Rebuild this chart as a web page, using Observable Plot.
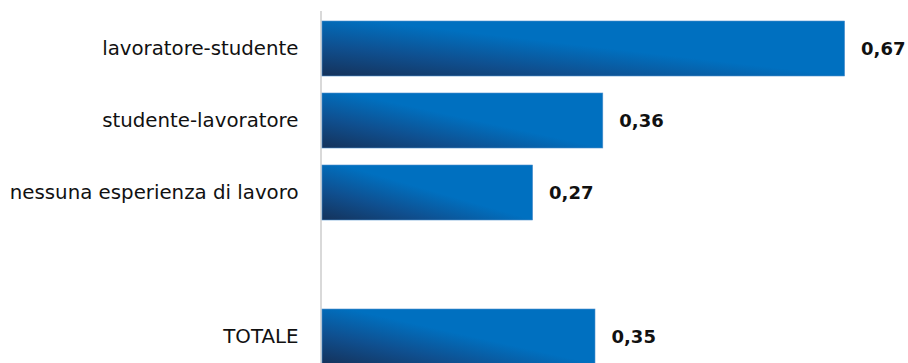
<!DOCTYPE html>
<html>
<head>
<meta charset="utf-8">
<script src="https://cdn.jsdelivr.net/npm/d3@7"></script>
<script src="https://cdn.jsdelivr.net/npm/@observablehq/plot@0.6"></script>
<style>
  html, body { margin: 0; padding: 0; background: #fff; }
  #chart svg { display: block; }
</style>
</head>
<body>
<div id="chart"></div>
<script>
// Categories in display order (the empty string is the blank gap row)
const categories = ["lavoratore-studente", "studente-lavoratore", "nessuna esperienza di lavoro", "", "TOTALE"];
// Values for the bars
const barCategories = ["lavoratore-studente", "studente-lavoratore", "nessuna esperienza di lavoro", "TOTALE"];
const values = [0.67, 0.36, 0.27, 0.35];

const data = barCategories.map((c, i) => ({ category: c, value: values[i] }));
const fmt = v => v.toFixed(2).replace(".", ",");

const defs = () => {
  const d = d3.create("svg:defs");
  const g = d.append("linearGradient")
    .attr("id", "barGrad")
    .attr("gradientUnits", "objectBoundingBox")
    .attr("x1", 0).attr("y1", 1)
    .attr("x2", 0.55).attr("y2", 0.5);
  g.append("stop").attr("offset", 0).attr("stop-color", "#15325a");
  g.append("stop").attr("offset", 0.5).attr("stop-color", "#0f4f8f");
  g.append("stop").attr("offset", 1).attr("stop-color", "#0070c0");
  return d.node();
};

const chart = Plot.plot({
  width: 908,
  height: 363,
  marginLeft: 322,
  marginRight: 0,
  marginTop: 11,
  marginBottom: 0,
  style: { fontFamily: "DejaVu Sans", background: "#fff", overflow: "visible" },
  x: { domain: [0, 586 / 780], axis: null },
  y: { type: "band", domain: categories, range: [19, 366.2], paddingInner: 0.23, paddingOuter: 0, axis: null },
  marks: [
    defs,
    Plot.ruleX([0], { dx: -1.5, stroke: "#d9d9d9", strokeWidth: 2 }),
    Plot.barX(data, { y: "category", x1: 0, x2: "value", fill: "url(#barGrad)", stroke: "#4f8fcc", strokeWidth: 0.6, inset: 0 }),
    Plot.text(data, { y: "category", x: "value", text: d => fmt(d.value), textAnchor: "start", dx: 16, fontSize: 18, fontWeight: "bold", fill: "#111" }),
    Plot.text(data, { y: "category", x: 0, text: "category", textAnchor: "end", dx: -24, fontSize: 19.8, fill: "#111" })
  ]
});
document.getElementById("chart").appendChild(chart);
</script>
</body>
</html>
